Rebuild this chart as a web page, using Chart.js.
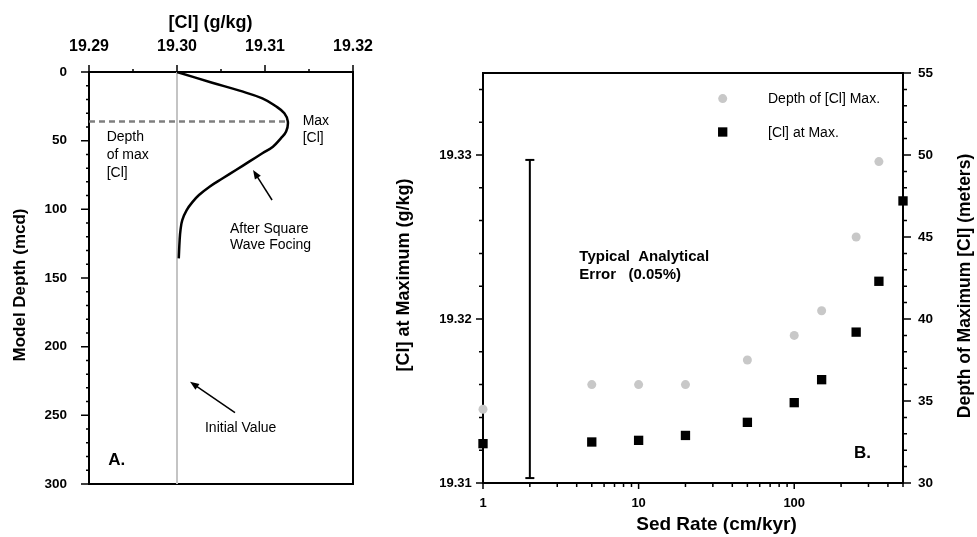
<!DOCTYPE html>
<html lang="en">
<head>
<meta charset="utf-8">
<title>[Cl] maximum model runs</title>
<script src="https://cdn.jsdelivr.net/npm/chart.js@4.4.1/dist/chart.umd.min.js"></script>
<style>
  html, body { margin: 0; padding: 0; background: #ffffff; }
  .wrap { position: relative; width: 977px; height: 537px; }
  .panel { position: absolute; top: 0; height: 537px; }
  #panelA { left: 0; width: 380px; }
  #panelB { left: 380px; width: 597px; }
</style>
</head>
<body>
<div class="wrap">
  <div class="panel" id="panelA"><canvas id="profileChart"></canvas></div>
  <div class="panel" id="panelB"><canvas id="sedRateChart"></canvas></div>
</div>
<script>
// ---- Panel A: modelled [Cl] profile ----
const profileDepth = [0, 7.8, 13.6, 19.2, 24.8, 30.1, 36.2, 43.4, 48.3, 54.4, 59.2, 65.3,
  71.4, 77.4, 83.5, 89.6, 94.4, 100.5, 107.8, 115, 122.3, 135.7];
const profileCl = [19.3000, 19.3040, 19.3071, 19.3097, 19.3112, 19.3122, 19.3126, 19.3124,
  19.3118, 19.3109, 19.3097, 19.3082, 19.3067, 19.3052, 19.3037, 19.3025, 19.3018,
  19.3011, 19.3006, 19.3004, 19.3003, 19.3002];
const initialDepth = [0, 300];
const initialCl = [19.30, 19.30];
const maxLineDepth = [36, 36];
const maxLineCl = [19.29, 19.3126];
const clTickLabels = [19.29, 19.30, 19.31, 19.32];
const depthTickLabels = [0, 50, 100, 150, 200, 250, 300];

// ---- Panel B: maximum vs sedimentation rate ----
const sedRate = [1, 5, 10, 20, 50, 100, 150, 250, 350, 500];
const clAtMax = [19.3124, 19.3125, 19.3126, 19.3129, 19.3137, 19.3149, 19.3163, 19.3192, 19.3223, 19.3272];
const depthOfMax = [34.5, 36.0, 36.0, 36.0, 37.5, 39.0, 40.5, 45.0, 49.6, null];
const errorBarRate = [2, 2];
const errorBarCl = [19.3103, 19.3297];
const sedRateTickLabels = [1, 10, 100];
const clMaxTickLabels = [19.31, 19.32, 19.33];
const depthMaxTickLabels = [30, 35, 40, 45, 50, 55];

const FONT = '"Liberation Sans", Arial, Helvetica, sans-serif';
Chart.defaults.font.family = FONT;
Chart.defaults.color = '#000';

const toPoints = (xs, ys) => xs.map((x, i) => ({ x, y: ys[i] }));
const labelFrom = (list, digits) => (v) =>
  list.some(t => Math.abs(t - v) < 1e-7) ? Number(v).toFixed(digits) : '';

// fixed axis box, no label overflow padding, so the plot area lands where we want it
const fixHeight = (h) => (s) => { s.height = h; s.paddingLeft = 0; s.paddingRight = 0; };
const fixWidth = (w) => (s) => { s.width = w; s.paddingTop = 0; s.paddingBottom = 0; };

function drawArrow(ctx, x1, y1, x2, y2) {
  const a = Math.atan2(y2 - y1, x2 - x1);
  const c = Math.cos(a), s = Math.sin(a);
  const head = 9, half = 3.5;
  ctx.beginPath();
  ctx.moveTo(x1, y1);
  ctx.lineTo(x2 - c * head * 0.7, y2 - s * head * 0.7);
  ctx.stroke();
  ctx.beginPath();
  ctx.moveTo(x2, y2);
  ctx.lineTo(x2 - c * head + s * half, y2 - s * head - c * half);
  ctx.lineTo(x2 - c * head - s * half, y2 - s * head + c * half);
  ctx.closePath();
  ctx.fill();
}

// frame, tick marks, notes, titles and legend
const panelDecor = {
  id: 'panelDecor',
  beforeDatasetsDraw(chart, args, opts) {
    const { ctx, chartArea: a } = chart;
    ctx.save();
    ctx.strokeStyle = '#000';
    ctx.lineWidth = 1.5;
    Object.entries(opts.ticks || {}).forEach(([id, [major, minor]]) => {
      const scale = chart.scales[id];
      ctx.beginPath();
      scale.ticks.forEach(t => {
        const p = scale.getPixelForValue(t.value);
        const len = t.label ? major : minor;
        if (scale.position === 'left') { ctx.moveTo(a.left, p); ctx.lineTo(a.left - len, p); }
        else if (scale.position === 'right') { ctx.moveTo(a.right, p); ctx.lineTo(a.right + len, p); }
        else if (scale.position === 'top') { ctx.moveTo(p, a.top); ctx.lineTo(p, a.top - len); }
        else { ctx.moveTo(p, a.bottom); ctx.lineTo(p, a.bottom + len); }
      });
      ctx.stroke();
    });
    ctx.lineWidth = 2;
    ctx.strokeRect(a.left, a.top, a.right - a.left, a.bottom - a.top);
    ctx.restore();
  },
  afterDatasetsDraw(chart, args, opts) {
    const { ctx, chartArea: a } = chart;
    ctx.save();
    ctx.fillStyle = '#000';
    ctx.strokeStyle = '#000';
    ctx.textBaseline = 'middle';

    (opts.notes || []).forEach(n => {
      const x = chart.scales[n.xAxis || 'x'].getPixelForValue(n.x);
      const y = chart.scales[n.yAxis || 'y'].getPixelForValue(n.y);
      ctx.font = (n.bold ? 'bold ' : '') + n.size + 'px ' + FONT;
      ctx.textAlign = 'left';
      ctx.fillText(n.text, x, y);
    });

    ctx.lineWidth = 1.5;
    (opts.arrows || []).forEach(r => {
      const sx = chart.scales.x, sy = chart.scales.y;
      drawArrow(ctx, sx.getPixelForValue(r.from[0]), sy.getPixelForValue(r.from[1]),
        sx.getPixelForValue(r.to[0]), sy.getPixelForValue(r.to[1]));
    });

    (opts.titles || []).forEach(t => {
      ctx.save();
      ctx.translate(t.x, t.y);
      ctx.rotate(t.rotate || 0);
      ctx.font = 'bold ' + t.size + 'px ' + FONT;
      ctx.textAlign = 'center';
      ctx.fillText(t.text, 0, 0);
      ctx.restore();
    });

    const lg = opts.legend;
    if (lg) {
      lg.items.forEach((item, i) => {
        const el = chart.getDatasetMeta(item.dataset).data[0];
        const o = el.options;
        const x = a.right + lg.dx;
        const y = a.top + lg.dy + i * lg.gap;
        ctx.fillStyle = o.backgroundColor;
        if (o.pointStyle === 'rect') {
          const h = o.radius * Math.SQRT1_2;
          ctx.fillRect(x - h, y - h, 2 * h, 2 * h);
        } else {
          ctx.beginPath();
          ctx.arc(x, y, o.radius, 0, Math.PI * 2);
          ctx.fill();
        }
        ctx.fillStyle = '#000';
        ctx.font = lg.size + 'px ' + FONT;
        ctx.textAlign = 'left';
        ctx.fillText(item.text, x + lg.textDx, y + 1);
      });
    }
    ctx.restore();
  }
};

// Panel A
new Chart(document.getElementById('profileChart'), {
  type: 'scatter',
  data: {
    datasets: [
      {
        label: 'After square wave forcing',
        data: toPoints(profileCl, profileDepth),
        showLine: true,
        borderColor: '#000',
        borderWidth: 2.5,
        pointRadius: 0,
        tension: 0.4,
      },
      {
        label: 'Depth of max [Cl]',
        data: toPoints(maxLineCl, maxLineDepth),
        showLine: true,
        borderColor: '#7f7f7f',
        borderWidth: 2.5,
        borderDash: [6, 4],
        pointRadius: 0,
      },
      {
        label: 'Initial value',
        data: toPoints(initialCl, initialDepth),
        showLine: true,
        borderColor: '#c4c4c4',
        borderWidth: 2,
        pointRadius: 0,
      },
    ],
  },
  options: {
    responsive: true,
    maintainAspectRatio: false,
    animation: false,
    events: [],
    layout: { padding: { top: 0, left: 0, right: 27, bottom: 53 } },
    scales: {
      x: {
        type: 'linear',
        position: 'top',
        min: 19.29,
        max: 19.32,
        afterFit: fixHeight(72),
        grid: { display: false, drawTicks: false },
        border: { display: false },
        ticks: {
          stepSize: 0.005,
          autoSkip: false,
          includeBounds: false,
          maxRotation: 0,
          padding: 15.7,
          font: { size: 16, weight: 'bold' },
          callback: labelFrom(clTickLabels, 2),
        },
      },
      y: {
        type: 'linear',
        position: 'left',
        reverse: true,
        min: 0,
        max: 300,
        afterFit: fixWidth(89),
        grid: { display: false, drawTicks: false },
        border: { display: false },
        ticks: {
          stepSize: 10,
          autoSkip: false,
          padding: 22,
          font: { size: 13.5, weight: 'bold' },
          callback: labelFrom(depthTickLabels, 0),
        },
      },
    },
    plugins: {
      legend: { display: false },
      tooltip: { enabled: false },
      panelDecor: {
        ticks: { x: [7, 3], y: [8, 3] },
        titles: [
          { text: '[Cl] (g/kg)', x: 210.5, y: 23, size: 18 },
          { text: 'Model Depth (mcd)', x: 20, y: 285, size: 17, rotate: -Math.PI / 2 },
        ],
        notes: [
          { text: 'Depth', x: 19.29201, y: 47.1, size: 14 },
          { text: 'of max', x: 19.29201, y: 60.4, size: 14 },
          { text: '[Cl]', x: 19.29201, y: 73.8, size: 14 },
          { text: 'Max', x: 19.31428, y: 35.7, size: 14 },
          { text: '[Cl]', x: 19.31428, y: 47.8, size: 14 },
          { text: 'After Square', x: 19.30602, y: 114.3, size: 14 },
          { text: 'Wave Focing', x: 19.30602, y: 126.0, size: 14 },
          { text: 'Initial Value', x: 19.30318, y: 259.2, size: 14 },
          { text: 'A.', x: 19.29219, y: 282.5, size: 17, bold: true },
        ],
        arrows: [
          { from: [19.3108, 93.2], to: [19.30864, 71.4] },
          { from: [19.30659, 248.1], to: [19.30148, 225.5] },
        ],
      },
    },
  },
  plugins: [panelDecor],
});

// Panel B
new Chart(document.getElementById('sedRateChart'), {
  type: 'scatter',
  data: {
    datasets: [
      {
        label: '[Cl] at Max.',
        data: toPoints(sedRate, clAtMax),
        yAxisID: 'y',
        pointStyle: 'rect',
        pointRadius: 6.6,
        pointBorderWidth: 0,
        backgroundColor: '#000',
        borderColor: '#000',
        clip: false,
      },
      {
        label: 'Depth of [Cl] Max.',
        data: toPoints(sedRate, depthOfMax),
        yAxisID: 'y2',
        pointStyle: 'circle',
        pointRadius: 4.5,
        pointBorderWidth: 0,
        backgroundColor: '#c8c8c8',
        borderColor: '#c8c8c8',
        clip: false,
      },
      {
        label: 'Typical analytical error',
        data: toPoints(errorBarRate, errorBarCl),
        yAxisID: 'y',
        showLine: true,
        borderColor: '#000',
        borderWidth: 2,
        pointStyle: 'line',
        pointRadius: 4.5,
        pointBorderWidth: 2,
        pointBorderColor: '#000',
        clip: false,
      },
    ],
  },
  options: {
    responsive: true,
    maintainAspectRatio: false,
    animation: false,
    events: [],
    layout: { padding: { top: 73, left: 0, right: 0, bottom: 0 } },
    scales: {
      x: {
        type: 'logarithmic',
        position: 'bottom',
        min: 1,
        max: 500,
        afterFit: fixHeight(54),
        afterBuildTicks: (s) => {
          s.ticks = s.ticks.filter(t => {
            const m = t.value / Math.pow(10, Math.floor(Math.log10(t.value) + 1e-9));
            return Math.abs(m - Math.round(m)) < 1e-6;
          });
        },
        grid: { display: false, drawTicks: false },
        border: { display: false },
        ticks: {
          autoSkip: false,
          maxRotation: 0,
          padding: 12.9,
          font: { size: 13, weight: 'bold' },
          callback: labelFrom(sedRateTickLabels, 0),
        },
      },
      y: {
        type: 'linear',
        position: 'left',
        min: 19.31,
        max: 19.335,
        afterFit: fixWidth(103),
        grid: { display: false, drawTicks: false },
        border: { display: false },
        ticks: {
          stepSize: 0.002,
          autoSkip: false,
          includeBounds: false,
          padding: 11.3,
          font: { size: 13, weight: 'bold' },
          callback: labelFrom(clMaxTickLabels, 2),
        },
      },
      y2: {
        type: 'linear',
        position: 'right',
        min: 30,
        max: 55,
        afterFit: fixWidth(74),
        grid: { display: false, drawTicks: false },
        border: { display: false },
        ticks: {
          stepSize: 1,
          autoSkip: false,
          padding: 15,
          font: { size: 13.5, weight: 'bold' },
          callback: labelFrom(depthMaxTickLabels, 0),
        },
      },
    },
    plugins: {
      legend: { display: false },
      tooltip: { enabled: false },
      panelDecor: {
        ticks: { x: [6, 4], y: [7, 4], y2: [8, 4] },
        titles: [
          { text: 'Sed Rate (cm/kyr)', x: 336.5, y: 525, size: 19 },
          { text: '[Cl] at Maximum (g/kg)', x: 24, y: 275, size: 18, rotate: -Math.PI / 2 },
          { text: 'Depth of Maximum [Cl] (meters)', x: 585, y: 286, size: 17.5, rotate: -Math.PI / 2 },
        ],
        notes: [
          { text: 'Typical  Analytical', x: 4.16, y: 19.32376, size: 15, bold: true },
          { text: 'Error   (0.05%)', x: 4.16, y: 19.32268, size: 15, bold: true },
          { text: 'B.', x: 242, y: 19.3118, size: 17, bold: true },
        ],
        legend: {
          dx: -180.3,
          dy: 25.6,
          gap: 33.4,
          textDx: 45.3,
          size: 14,
          items: [
            { dataset: 1, text: 'Depth of [Cl] Max.' },
            { dataset: 0, text: '[Cl] at Max.' },
          ],
        },
      },
    },
  },
  plugins: [panelDecor],
});
</script>
</body>
</html>
